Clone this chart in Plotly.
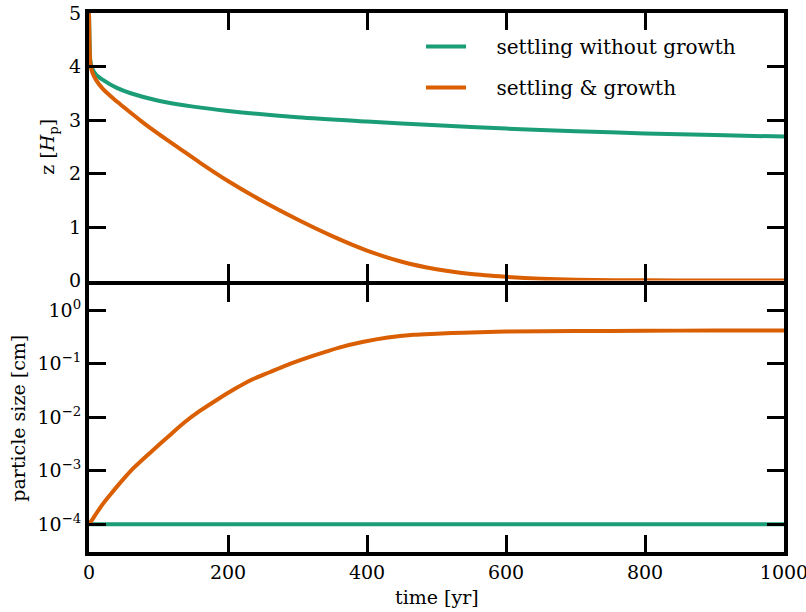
import plotly.graph_objects as go
from plotly.subplots import make_subplots

# ---- data ----
t_green_z = [0, 1, 2, 5, 10, 20, 40, 60, 100, 150, 200, 300, 400, 500, 600, 700, 800, 900, 1000]
z_green = [5.0, 4.4, 4.1, 3.95, 3.85, 3.75, 3.6, 3.5, 3.36, 3.25, 3.17, 3.05, 2.97, 2.9, 2.84, 2.79, 2.75, 2.72, 2.69]

t_orange_z = [0, 1, 2, 5, 10, 20, 35, 50, 75, 100, 130, 160, 200, 250, 300, 350, 400, 450,
              500, 550, 600, 650, 700, 800, 900, 1000]
z_orange = [5.0, 4.3, 4.05, 3.88, 3.75, 3.58, 3.4, 3.24, 2.98, 2.74, 2.47, 2.2, 1.86, 1.48, 1.14,
            0.83, 0.56, 0.35, 0.21, 0.12, 0.07, 0.035, 0.015, 0.003, 0.001, 0.0]

t_green_a = [0, 1000]
a_green = [1e-4, 1e-4]

t_orange_a = [0, 5, 10, 19, 30, 42, 52, 65, 90, 115, 138, 160, 186, 210, 234, 260, 282, 323,
              360, 395, 430, 467, 500, 539, 600, 700, 800, 900, 1000]
a_orange = [1.0e-4, 1.23e-4, 1.55e-4, 2.29e-4, 3.47e-4, 5.37e-4, 7.59e-4, 1.15e-3, 2.29e-3,
            4.47e-3, 8.13e-3, 1.32e-2, 2.19e-2, 3.39e-2, 5.01e-2, 6.92e-2, 9.12e-2, 0.141,
            0.200, 0.257, 0.309, 0.347, 0.363, 0.380, 0.398, 0.407, 0.412, 0.417, 0.417]

x_ticks = [0, 200, 400, 600, 800, 1000]
z_ticks = [0, 1, 2, 3, 4, 5]
a_tickvals = [1e-4, 1e-3, 1e-2, 1e-1, 1e0]
a_ticktext = ["10<sup>\u22124</sup>", "10<sup>\u22123</sup>", "10<sup>\u22122</sup>",
              "10<sup>\u22121</sup>", "10<sup>0</sup>"]
legend_names = ["settling without growth", "settling &amp; growth"]
x_title = "time [yr]"

GREEN = "#1b9e77"
ORANGE = "#d95f02"
FONT = "DejaVu Serif"
PAD = "\u00a0" * 4

fig = make_subplots(rows=2, cols=1, shared_xaxes=True, vertical_spacing=0)

fig.add_trace(go.Scatter(x=t_green_z, y=z_green, mode="lines", name=PAD + legend_names[0],
                         legendgroup="g1",
                         line=dict(color=GREEN, width=4, shape="spline", smoothing=0.8)),
              row=1, col=1)
fig.add_trace(go.Scatter(x=t_orange_z, y=z_orange, mode="lines", name=PAD + legend_names[1],
                         legendgroup="g2",
                         line=dict(color=ORANGE, width=4, shape="spline", smoothing=0.8)),
              row=1, col=1)
fig.add_trace(go.Scatter(x=t_green_a, y=a_green, mode="lines", showlegend=False,
                         line=dict(color=GREEN, width=4)), row=2, col=1)
fig.add_trace(go.Scatter(x=t_orange_a, y=a_orange, mode="lines", showlegend=False,
                         line=dict(color=ORANGE, width=4, shape="spline", smoothing=0.8)),
              row=2, col=1)

axis_common = dict(showline=True, linecolor="black", linewidth=4, mirror="ticks",
                   ticks="inside", ticklen=17, tickwidth=3, tickcolor="black",
                   showgrid=False, zeroline=False, ticklabeloverflow="allow",
                   automargin=False,
                   tickfont=dict(family=FONT, size=19, color="black"))

H = 539.0
fig.update_xaxes(range=[0, 1000], tickvals=x_ticks, **axis_common)
fig.update_xaxes(showticklabels=False, row=1, col=1)

fig.update_yaxes(range=[0, 5], tickvals=z_ticks, row=1, col=1,
                 domain=[0.5 + 2 / H, 1],
                 title=dict(text="z [<i>H</i><sub>p</sub>]",
                            font=dict(family=FONT, size=19, color="black"), standoff=10),
                 **axis_common)
fig.update_yaxes(type="log", range=[-4.52, 0.48], tickvals=a_tickvals, ticktext=a_ticktext,
                 row=2, col=1, domain=[0, 0.5 - 2 / H],
                 title=dict(text="particle size [cm]",
                            font=dict(family=FONT, size=19, color="black"), standoff=8),
                 **axis_common)

fig.add_annotation(text=x_title, xref="paper", yref="paper", x=0.5, y=-45 / H,
                   xanchor="center", yanchor="middle", showarrow=False,
                   font=dict(family=FONT, size=19, color="black"))

fig.update_layout(
    width=806, height=612,
    margin=dict(l=89, r=22, t=13, b=60),
    plot_bgcolor="white", paper_bgcolor="white",
    font=dict(family=FONT, size=19, color="black"),
    legend=dict(x=0.4777, y=0.974, xanchor="left", yanchor="top",
                bgcolor="rgba(0,0,0,0)", borderwidth=0,
                font=dict(family=FONT, size=20, color="black"),
                itemwidth=40, tracegroupgap=12),
    showlegend=True,
)

fig.write_html("out.html")
